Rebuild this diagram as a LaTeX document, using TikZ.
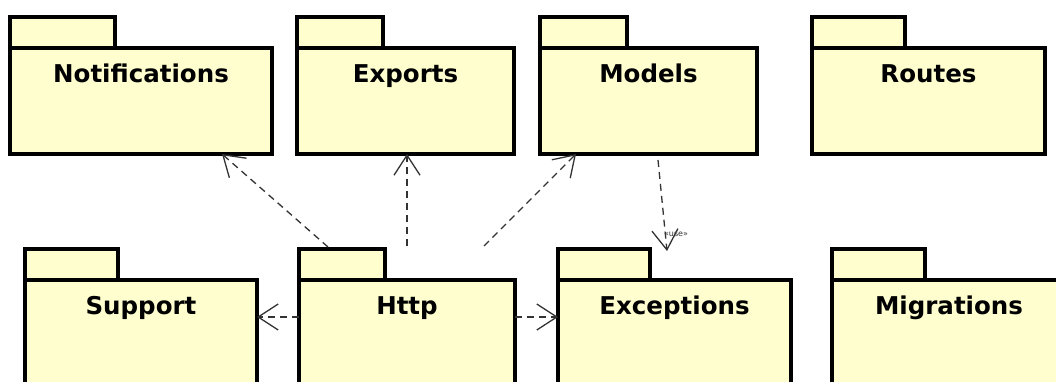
\documentclass[tikz,border=0pt]{standalone}
\usepackage{fontspec}
\newfontfamily\pkgfont{DejaVu Sans}
\usetikzlibrary{arrows.meta,calc}
\definecolor{pkgfill}{HTML}{FEFECE}
\definecolor{depcol}{HTML}{333333}
\newcommand\pkgbox[6]{%
  \node[pkgpart, minimum width=#5pt, minimum height=31pt] (#1tab) at (#2,#3) {};
  \node[pkgpart, minimum width=#4pt, minimum height=106pt] (#1) at (#2,#3+31) {};
  \node[pkgname] (#1name) at ($(#1.north)+(0,34)$) {#6};
}
\begin{document}
\begin{tikzpicture}[x=1pt,y=-1pt,
  pkgpart/.style={draw=black, fill=pkgfill, line width=3.3pt, rectangle, inner sep=0pt, outer sep=0pt, anchor=north west},
  pkgname/.style={font=\pkgfont\bfseries\fontsize{24.5}{28}\selectfont, anchor=base, inner sep=0pt, text=black},
  dep/.style={draw=depcol, line width=1.3pt, dash pattern=on 7pt off 5pt, -{Straight Barb[length=20pt,width=26pt]}},
  deplabel/.style={font=\pkgfont\fontsize{8}{8}\selectfont, text=depcol, inner sep=0pt}
]
\useasboundingbox (0,0) rectangle (1056,381);
\clip (0,0) rectangle (1056,381);
\fill[white] (0,0) rectangle (1056,381);

\pkgbox{notif}{10}{17}{262}{105}{Notifications}
\pkgbox{exports}{297}{17}{217}{86}{Exports}
\pkgbox{models}{540}{17}{217}{87}{Models}
\pkgbox{routes}{812}{17}{233}{93}{Routes}
\pkgbox{support}{25}{249}{232}{93}{Support}
\pkgbox{http}{299}{249}{216}{86}{Http}
\pkgbox{exceptions}{558}{249}{233}{92}{Exceptions}
\pkgbox{migrations}{832}{249}{234}{93}{Migrations}

\coordinate (h1) at ($(httptab.north west)+(29,-2)$);
\coordinate (h2) at ($(http.north west)+(108,-34)$);
\coordinate (h3) at ($(http.north west)+(185,-34)$);
\coordinate (m1) at ($(models.south west)+(118,6)$);
\coordinate (m2) at ($(exceptions.north west)+(109,-29)$);

\draw[dep] (h1) -- ($(notif.south west)+(212,0)$);
\draw[dep] (h2) -- (h2 |- exports.south);
\draw[dep] (h3) -- ($(models.south west)+(36,0)$);
\draw[dep] ($(http.north west)+(0,37)$) -- ($(support.north east)+(0,37)$);
\draw[dep] ($(http.north east)+(0,37)$) -- ($(exceptions.north west)+(0,37)$);
\draw[dep] (m1) -- (m2);
\node[deplabel] (uselbl) at (676,234) {«use»};
\end{tikzpicture}
\end{document}
